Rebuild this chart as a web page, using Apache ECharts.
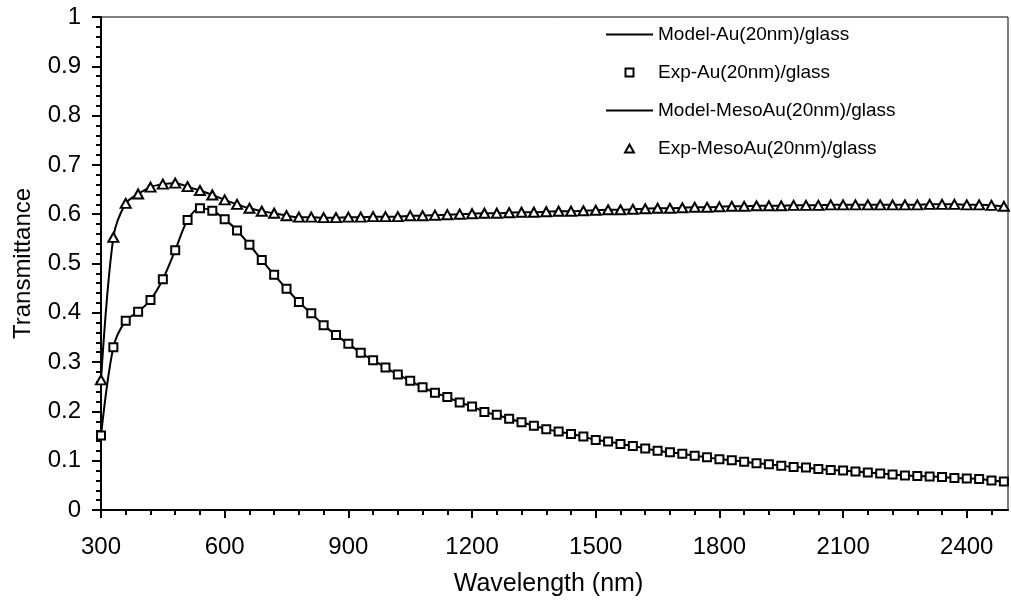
<!DOCTYPE html>
<html>
<head>
<meta charset="utf-8">
<title>Transmittance of Au films on glass</title>
<script src="https://cdn.jsdelivr.net/npm/echarts@6/dist/echarts.min.js"></script>
<style>
  html, body { margin: 0; padding: 0; background: #fff; }
  #chart { width: 1011px; height: 608px; }
</style>
</head>
<body>
<div id="chart"></div>
<script>
// Wavelength grid of the measurements (nm)
const wavelength = [
  300, 330, 360, 390, 420, 450, 480, 510, 540, 570,
  600, 630, 660, 690, 720, 750, 780, 810, 840, 870,
  900, 930, 960, 990, 1020, 1050, 1080, 1110, 1140, 1170,
  1200, 1230, 1260, 1290, 1320, 1350, 1380, 1410, 1440, 1470,
  1500, 1530, 1560, 1590, 1620, 1650, 1680, 1710, 1740, 1770,
  1800, 1830, 1860, 1890, 1920, 1950, 1980, 2010, 2040, 2070,
  2100, 2130, 2160, 2190, 2220, 2250, 2280, 2310, 2340, 2370,
  2400, 2430, 2460, 2490
];

// Transmittance of the dense Au(20nm) film on glass
const auT = [
  0.151, 0.330, 0.384, 0.402, 0.426, 0.468, 0.527, 0.588, 0.612, 0.607,
  0.590, 0.567, 0.538, 0.507, 0.477, 0.449, 0.422, 0.399, 0.375, 0.355,
  0.337, 0.319, 0.304, 0.289, 0.275, 0.262, 0.249, 0.238, 0.229, 0.218,
  0.210, 0.199, 0.193, 0.185, 0.178, 0.171, 0.164, 0.159, 0.154, 0.149,
  0.142, 0.139, 0.134, 0.130, 0.125, 0.120, 0.117, 0.114, 0.110, 0.107,
  0.103, 0.101, 0.098, 0.095, 0.093, 0.090, 0.087, 0.086, 0.083, 0.081,
  0.080, 0.078, 0.076, 0.074, 0.072, 0.070, 0.069, 0.068, 0.067, 0.065,
  0.064, 0.063, 0.060, 0.058
];

// Transmittance of the mesoporous Au(20nm) film on glass
const mesoAuT = [
  0.264, 0.553, 0.622, 0.641, 0.655, 0.661, 0.663, 0.656, 0.648, 0.639,
  0.629, 0.620, 0.612, 0.606, 0.602, 0.597, 0.594, 0.594, 0.593, 0.593,
  0.594, 0.594, 0.595, 0.595, 0.595, 0.597, 0.597, 0.598, 0.599, 0.600,
  0.601, 0.602, 0.602, 0.603, 0.604, 0.604, 0.605, 0.606, 0.606, 0.607,
  0.608, 0.609, 0.609, 0.610, 0.611, 0.612, 0.612, 0.613, 0.614, 0.614,
  0.615, 0.616, 0.616, 0.617, 0.617, 0.617, 0.618, 0.618, 0.618, 0.619,
  0.619, 0.619, 0.619, 0.619, 0.619, 0.619, 0.619, 0.620, 0.620, 0.620,
  0.619, 0.619, 0.618, 0.616
];

// Axis ticks
const xMajorTicks = [300, 600, 900, 1200, 1500, 1800, 2100, 2400];
const xMinorTicks = [];
for (let v = 360; v < 2500; v += 60) {
  if (v % 300 !== 0) xMinorTicks.push(v);
}

const seriesNames = [
  'Model-Au(20nm)/glass',
  'Exp-Au(20nm)/glass',
  'Model-MesoAu(20nm)/glass',
  'Exp-MesoAu(20nm)/glass'
];

const pairs = (ys) => wavelength.map((x, i) => [x, ys[i]]);

const FONT = "'Liberation Sans', Arial, Helvetica, sans-serif";
const gridRect = { left: 101, right: 3, top: 17, bottom: 98 };
const hollow = { color: '#fff', borderColor: '#000', borderWidth: 2, opacity: 1 };
const solidBar = { color: '#000', borderWidth: 0, opacity: 1 };

const chart = echarts.init(document.getElementById('chart'), null, { renderer: 'canvas' });

chart.setOption({
  backgroundColor: '#ffffff',
  animation: false,
  textStyle: { fontFamily: FONT, color: '#000' },
  grid: [
    Object.assign({ show: true, borderColor: '#000', borderWidth: 1, backgroundColor: 'transparent' }, gridRect),
    Object.assign({ show: false }, gridRect)
  ],
  legend: {
    orient: 'vertical',
    left: 606,
    top: 25,
    padding: 0,
    itemWidth: 47,
    itemHeight: 8,
    itemGap: 19,
    symbolKeepAspect: true,
    textStyle: { fontFamily: FONT, fontSize: 19, color: '#000', lineHeight: 18 },
    data: [
      { name: seriesNames[0], icon: 'path://M0,0H47V2H0Z', itemStyle: solidBar },
      { name: seriesNames[1], icon: 'path://M0,0H10V10H0Z', itemStyle: hollow },
      { name: seriesNames[2], icon: 'path://M0,0H47V2H0Z', itemStyle: solidBar },
      { name: seriesNames[3], icon: 'path://M5,0L10,9H0Z', itemStyle: hollow }
    ]
  },
  xAxis: [
    {
      type: 'value',
      gridIndex: 0,
      min: 300,
      max: 2500,
      interval: 300,
      name: 'Wavelength (nm)',
      nameLocation: 'middle',
      nameGap: 62,
      nameTextStyle: { fontFamily: FONT, fontSize: 25, color: '#000', padding: [0, 12, 0, 0] },
      axisLine: { show: true, lineStyle: { color: '#000', width: 2 } },
      axisTick: { show: true, length: 8, lineStyle: { color: '#000', width: 2 }, customValues: xMajorTicks },
      axisLabel: {
        margin: 25, fontFamily: FONT, fontSize: 24, color: '#000',
        customValues: xMajorTicks,
        formatter: (v) => String(v)
      },
      splitLine: { show: false }
    },
    {
      type: 'value',
      gridIndex: 1,
      min: 300,
      max: 2500,
      interval: 60,
      axisLine: { show: false },
      axisTick: { show: true, length: 5, lineStyle: { color: '#000', width: 2 }, customValues: xMinorTicks },
      axisLabel: { show: false },
      splitLine: { show: false }
    }
  ],
  yAxis: [
    {
      type: 'value',
      gridIndex: 0,
      min: 0,
      max: 1,
      interval: 0.1,
      name: 'Transmittance',
      nameLocation: 'middle',
      nameRotate: 90,
      nameGap: 66,
      nameTextStyle: { fontFamily: FONT, fontSize: 24, color: '#000' },
      axisLine: { show: true, lineStyle: { color: '#000', width: 2 } },
      axisTick: { show: true, length: 9, lineStyle: { color: '#000', width: 2 } },
      minorTick: { show: true, splitNumber: 5, length: 5, lineStyle: { color: '#000', width: 2 } },
      axisLabel: { margin: 20, fontFamily: FONT, fontSize: 24, color: '#000', formatter: (v) => String(v) },
      splitLine: { show: false }
    },
    {
      type: 'value',
      gridIndex: 1,
      min: 0,
      max: 1,
      show: false
    }
  ],
  series: [
    {
      name: seriesNames[0],
      type: 'line',
      xAxisIndex: 0,
      yAxisIndex: 0,
      data: pairs(auT),
      smooth: 0.3,
      showSymbol: false,
      lineStyle: { color: '#000', width: 2 },
      itemStyle: { color: '#000' },
      z: 2
    },
    {
      name: seriesNames[1],
      type: 'scatter',
      xAxisIndex: 0,
      yAxisIndex: 0,
      data: pairs(auT),
      symbol: 'rect',
      symbolSize: 8,
      itemStyle: hollow,
      z: 3
    },
    {
      name: seriesNames[2],
      type: 'line',
      xAxisIndex: 0,
      yAxisIndex: 0,
      data: pairs(mesoAuT),
      smooth: 0.3,
      showSymbol: false,
      lineStyle: { color: '#000', width: 2 },
      itemStyle: { color: '#000' },
      z: 2
    },
    {
      name: seriesNames[3],
      type: 'scatter',
      xAxisIndex: 0,
      yAxisIndex: 0,
      data: pairs(mesoAuT),
      symbol: 'triangle',
      symbolSize: [10, 9],
      itemStyle: hollow,
      z: 3
    },
    {
      // empty series so the tick-only axes of the second grid are laid out
      type: 'line',
      xAxisIndex: 1,
      yAxisIndex: 1,
      data: [],
      silent: true
    }
  ]
});
</script>
</body>
</html>
